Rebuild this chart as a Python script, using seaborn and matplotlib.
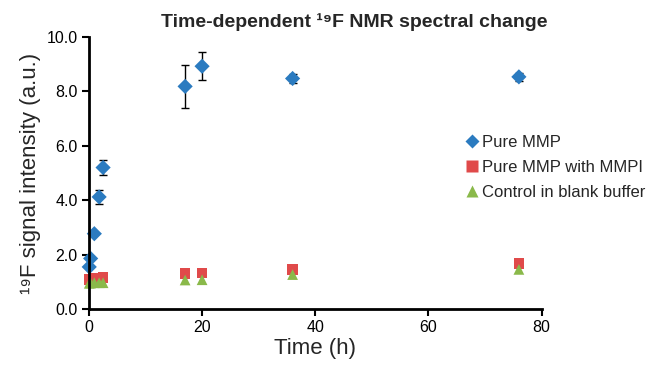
import pandas as pd
import matplotlib.pyplot as plt
import seaborn as sns
from matplotlib.ticker import FormatStrFormatter

# Time points (h)
time_early = [0.05, 0.3, 0.95, 1.8, 2.5]
time_late = [17, 20, 36, 76]
times = time_early + time_late

pure_mmp = [1.55, 1.86, 2.77, 4.12, 5.2, 8.18, 8.92, 8.47, 8.53]
pure_mmp_err = [0.0, 0.0, 0.0, 0.25, 0.27, 0.8, 0.52, 0.18, 0.15]
mmp_mmpi = [1.1, 1.1, 1.12, 1.13, 1.15, 1.3, 1.33, 1.45, 1.67]
control = [0.95, 0.96, 0.97, 0.97, 0.97, 1.07, 1.08, 1.27, 1.46]

labels = ["Pure MMP", "Pure MMP with MMPI", "Control in blank buffer"]
colors = ["#2b7bc0", "#e04a4a", "#8ab94a"]
markers = ["D", "s", "^"]

df = pd.DataFrame({
    "time": times * 3,
    "signal": pure_mmp + mmp_mmpi + control,
    "series": [labels[0]] * len(times) + [labels[1]] * len(times) + [labels[2]] * len(times),
})

sns.set_style("white")
plt.rcParams["font.family"] = ["Liberation Sans", "DejaVu Sans"]

fig = plt.figure(figsize=(6.54, 3.72), dpi=100)
ax = fig.add_axes([0.136, 0.169, 0.692, 0.732])

ax.errorbar(times, pure_mmp, yerr=pure_mmp_err, fmt="none", ecolor="black",
            elinewidth=1, capsize=3, capthick=1, zorder=1)

sns.scatterplot(data=df, x="time", y="signal", hue="series", style="series",
                palette=colors, markers=markers, hue_order=labels, style_order=labels,
                s=60, edgecolor="none", ax=ax, zorder=2, clip_on=False)

ax.set_xlim(0, 80)
ax.set_ylim(0, 10)
ax.set_xticks([0, 20, 40, 60, 80])
ax.set_yticks([0, 2, 4, 6, 8, 10])
ax.yaxis.set_major_formatter(FormatStrFormatter("%.1f"))
ax.tick_params(axis="both", direction="out", length=5, width=1.5, labelsize=11.5,
               colors="black", bottom=True, left=True, pad=3)

for side in ["top", "right"]:
    ax.spines[side].set_visible(False)
for side in ["left", "bottom"]:
    ax.spines[side].set_color("black")
    ax.spines[side].set_linewidth(2)

ax.set_xlabel("Time (h)", fontsize=16, labelpad=2)
ax.set_ylabel("¹⁹F signal intensity (a.u.)", fontsize=16, labelpad=4)
fig.text(0.541, 0.94, "Time-dependent ¹⁹F NMR spectral change", fontsize=14,
         fontweight="bold", ha="center", va="center")

leg = ax.legend(loc="center left", bbox_to_anchor=(0.818, 0.52), frameon=False,
                fontsize=12, handletextpad=-0.1, borderaxespad=0, labelspacing=0.6,
                borderpad=0, handlelength=1.5)
for h, ms in zip(leg.legend_handles, [7, 8, 9]):
    h.set_markersize(ms)

fig.savefig("out.png", dpi=100)
